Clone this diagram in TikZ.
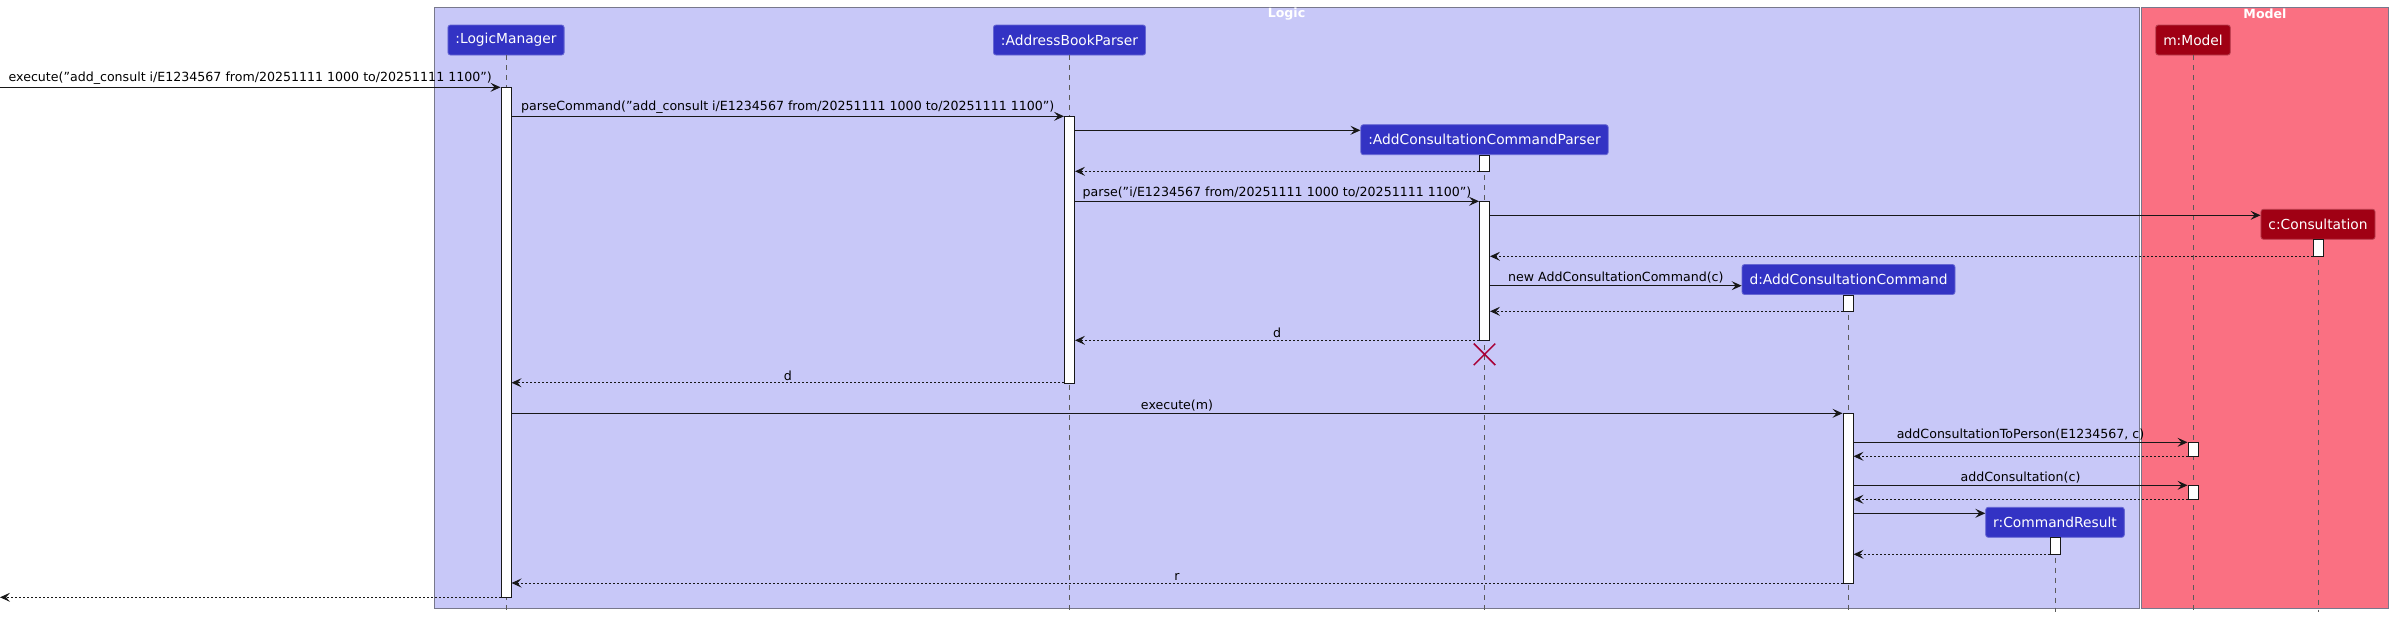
\documentclass[tikz,border=0pt]{standalone}
\usepackage{fontspec}
\setmainfont{DejaVu Sans}
\usetikzlibrary{arrows.meta,shapes.misc}

\definecolor{logicbg}{RGB}{200,200,248}
\definecolor{modelbg}{RGB}{250,112,130}
\definecolor{groupline}{RGB}{120,120,140}
\definecolor{partblue}{RGB}{51,51,196}
\definecolor{partred}{RGB}{160,0,20}
\definecolor{linecol}{RGB}{24,24,24}
\definecolor{lifecol}{RGB}{90,90,90}
\definecolor{destroycol}{RGB}{168,0,54}

\begin{document}
\begin{tikzpicture}[x=1pt,y=-1pt,
        part/.style={rectangle, rounded corners=2.5pt, fill=partblue, draw=partblue!75!white, line width=0.8pt, text=white, minimum height=30pt, inner xsep=7.5pt, font=\fontsize{13.8}{16}\selectfont},
        modelpart/.style={part, fill=partred, draw=partred!75!white},
        act/.style={rectangle, fill=white, draw=linecol, line width=1pt, minimum width=10pt, inner sep=0pt, anchor=north},
        lifeline/.style={draw=lifecol, line width=0.8pt, dash pattern=on 5pt off 5pt},
        msg/.style={draw=linecol, line width=1pt, -{Stealth[length=10pt,width=9pt,inset=4pt]}},
        ret/.style={msg, dash pattern=on 2pt off 2pt},
        lbl/.style={above, inner sep=2pt, text=black, font=\fontsize{12.6}{15}\selectfont},
        grouplbl/.style={text=white, inner sep=0pt, font=\bfseries\fontsize{12.6}{15}\selectfont}]

                \useasboundingbox (0,0) rectangle (2390,621);

                \draw[fill=logicbg, draw=groupline, line width=1pt] (434,7) rectangle (2139,608);
                \draw[fill=modelbg, draw=groupline, line width=1pt] (2141.5,7) rectangle (2388.5,608);
                \node[grouplbl] (logicLbl) at (1286.5,14) {Logic};
                \node[grouplbl] (modelLbl) at (2265,14) {Model};

                \node[part] (lm) at (506,40) {:LogicManager};
                \node[part] (abp) at (1069.5,40) {:AddressBookParser};
                \node[modelpart] (model) at (2193,40) {m:Model};
                \node[part] (accp) at (1484.5,139.7) {:AddConsultationCommandParser};
                \node[modelpart] (cons) at (2318,224.3) {c:Consultation};
                \node[part] (dcmd) at (1848.5,279.5) {d:AddConsultationCommand};
                \node[part] (res) at (2055,522.3) {r:CommandResult};

                \coordinate (bottom) at (0,612);
                \foreach \p in {lm,abp,model,accp,cons,dcmd,res}
                    \draw[lifeline] (\p.south) -- (\p.south |- bottom);

                \node[act, minimum height=510pt] (lmAct) at (506,87.3) {};
                \node[act, minimum height=266.4pt] (abpAct) at (1069.5,116.3) {};
                \node[act, minimum height=16.6pt] (accpAct1) at (1484.5,154.7) {};
                \node[act, minimum height=139pt] (accpAct2) at (1484.5,201.3) {};
                \node[act, minimum height=17pt] (consAct) at (2318,239.3) {};
                \node[act, minimum height=16.6pt] (dcmdAct1) at (1848.5,294.7) {};
                \node[act, minimum height=169.7pt] (dcmdAct2) at (1848,413.3) {};
                \node[act, minimum height=14pt] (modelAct1) at (2193,442.3) {};
                \node[act, minimum height=14pt] (modelAct2) at (2193,485.3) {};
                \node[act, minimum height=17pt] (resAct) at (2055,537.3) {};

                \node[draw=destroycol, cross out, line width=1.5pt, minimum size=20pt, inner sep=0pt] (accpX) at (1484.5,354.3) {};

                \foreach \n/\y in {m1/87.3, m2/116.3, m3/130.3, m4/171.3, m5/201.3, m6/215.3, m7/256.3, m8/285.7, m9/311.3, m10/340.3,
                                   m11/382.7, m12/413.3, m13/442.3, m14/456.3, m15/485.3, m16/499.3, m17/513.3, m18/554.3, m19/583, m20/597.3}
                    \coordinate (\n) at (0,\y);

                \draw[msg] (m1) -- (lmAct.west |- m1) node[lbl, midway] {execute("add\_consult i/E1234567 from/20251111 1000 to/20251111 1100")};
                \draw[msg] (lmAct.east |- m2) -- (abpAct.west |- m2) node[lbl, midway] {parseCommand("add\_consult i/E1234567 from/20251111 1000 to/20251111 1100")};
                \draw[msg] (abpAct.east |- m3) -- (accp.west |- m3);
                \draw[ret] (accpAct1.west |- m4) -- (abpAct.east |- m4);
                \draw[msg] (abpAct.east |- m5) -- (accpAct2.west |- m5) node[lbl, midway] {parse("i/E1234567 from/20251111 1000 to/20251111 1100")};
                \draw[msg] (accpAct2.east |- m6) -- (cons.west |- m6);
                \draw[ret] (consAct.west |- m7) -- (accpAct2.east |- m7);
                \draw[msg] (accpAct2.east |- m8) -- (dcmd.west |- m8) node[lbl, midway] {new AddConsultationCommand(c)};
                \draw[ret] (dcmdAct1.west |- m9) -- (accpAct2.east |- m9);
                \draw[ret] (accpAct2.west |- m10) -- (abpAct.east |- m10) node[lbl, midway] {d};
                \draw[ret] (abpAct.west |- m11) -- (lmAct.east |- m11) node[lbl, midway] {d};
                \draw[msg] (lmAct.east |- m12) -- (dcmdAct2.west |- m12) node[lbl, midway] {execute(m)};
                \draw[msg] (dcmdAct2.east |- m13) -- (modelAct1.west |- m13) node[lbl, midway] {addConsultationToPerson(E1234567, c)};
                \draw[ret] (modelAct1.west |- m14) -- (dcmdAct2.east |- m14);
                \draw[msg] (dcmdAct2.east |- m15) -- (modelAct2.west |- m15) node[lbl, midway] {addConsultation(c)};
                \draw[ret] (modelAct2.west |- m16) -- (dcmdAct2.east |- m16);
                \draw[msg] (dcmdAct2.east |- m17) -- (res.west |- m17);
                \draw[ret] (resAct.west |- m18) -- (dcmdAct2.east |- m18);
                \draw[ret] (dcmdAct2.west |- m19) -- (lmAct.east |- m19) node[lbl, midway] {r};
                \draw[ret] (lmAct.west |- m20) -- (m20);

            \end{tikzpicture}
\end{document}
